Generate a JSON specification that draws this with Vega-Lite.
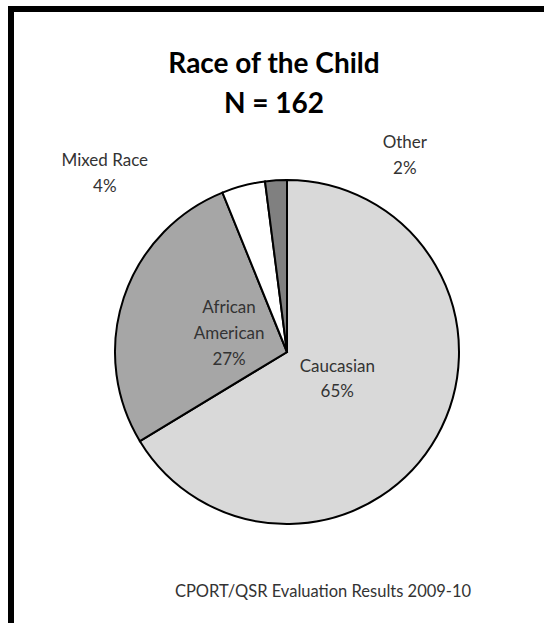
{
  "$schema": "https://vega.github.io/schema/vega-lite/v6.json",
  "width": 552,
  "height": 686,
  "autosize": {"type": "none"},
  "padding": {"left": 11, "top": 9, "right": -19, "bottom": -72},
  "background": "white",
  "view": {"stroke": "black", "strokeWidth": 6},
  "config": {
    "view": {"stroke": "black", "strokeWidth": 6},
    "style": {"view": {"stroke": "black", "strokeWidth": 6}}
  },
  "title": {
    "text": "Race of the Child",
    "subtitle": "N = 162",
    "anchor": "middle",
    "frame": "group",
    "offset": -110,
    "dx": -13,
    "font": "Lato",
    "fontSize": 28,
    "fontWeight": "bold",
    "color": "black",
    "subtitleFont": "Lato",
    "subtitleFontSize": 28,
    "subtitleFontWeight": "bold",
    "subtitleColor": "black",
    "subtitlePadding": 12
  },
  "data": {
    "values": [
      {"race": "Caucasian", "value": 65, "label": "Caucasian\n65%"},
      {"race": "African American", "value": 27, "label": "African\nAmerican\n27%"},
      {"race": "Mixed Race", "value": 4, "label": "Mixed Race\n4%"},
      {"race": "Other", "value": 2, "label": "Other\n2%"}
    ]
  },
  "layer": [
    {
      "mark": {"type": "arc", "outerRadius": 172, "stroke": "black", "strokeWidth": 2},
      "encoding": {
        "theta": {"field": "value", "type": "quantitative", "stack": true},
        "order": {"field": "value", "sort": "descending"},
        "color": {
          "field": "race",
          "type": "nominal",
          "scale": {
            "domain": ["Caucasian", "African American", "Mixed Race", "Other"],
            "range": ["#d9d9d9", "#a6a6a6", "#ffffff", "#808080"]
          },
          "legend": null
        }
      }
    },
    {
      "mark": {"type": "text", "radius": 60, "dx": -2, "dy": -14, "font": "Lato", "fontSize": 17, "color": "#333333", "lineBreak": "\n", "lineHeight": 25, "align": "center", "baseline": "middle"},
      "encoding": {
        "theta": {"field": "value", "type": "quantitative", "stack": true},
        "order": {"field": "value", "sort": "descending"},
        "text": {"condition": {"test": "datum.race === 'Caucasian'", "field": "label"}, "value": ""}
      }
    },
    {
      "mark": {"type": "text", "radius": 60, "dx": -1, "dy": -25, "font": "Lato", "fontSize": 17, "color": "#333333", "lineBreak": "\n", "lineHeight": 26, "align": "center", "baseline": "middle"},
      "encoding": {
        "theta": {"field": "value", "type": "quantitative", "stack": true},
        "order": {"field": "value", "sort": "descending"},
        "text": {"condition": {"test": "datum.race === 'African American'", "field": "label"}, "value": ""}
      }
    },
    {
      "mark": {"type": "text", "radius": 190, "dx": -134, "dy": -7, "font": "Lato", "fontSize": 17, "color": "#333333", "lineBreak": "\n", "lineHeight": 26, "align": "center", "baseline": "middle"},
      "encoding": {
        "theta": {"field": "value", "type": "quantitative", "stack": true},
        "order": {"field": "value", "sort": "descending"},
        "text": {"condition": {"test": "datum.race === 'Mixed Race'", "field": "label"}, "value": ""}
      }
    },
    {
      "mark": {"type": "text", "radius": 190, "dx": 130, "dy": -19, "font": "Lato", "fontSize": 17, "color": "#333333", "lineBreak": "\n", "lineHeight": 26, "align": "center", "baseline": "middle"},
      "encoding": {
        "theta": {"field": "value", "type": "quantitative", "stack": true},
        "order": {"field": "value", "sort": "descending"},
        "text": {"condition": {"test": "datum.race === 'Other'", "field": "label"}, "value": ""}
      }
    },
    {
      "data": {"values": [{"note": "CPORT/QSR Evaluation Results 2009-10"}]},
      "mark": {"type": "text", "dx": 36, "dy": 245, "font": "Lato", "fontSize": 16.5, "color": "#333333", "align": "center", "baseline": "alphabetic"},
      "encoding": {"text": {"field": "note", "type": "nominal"}}
    }
  ]
}
